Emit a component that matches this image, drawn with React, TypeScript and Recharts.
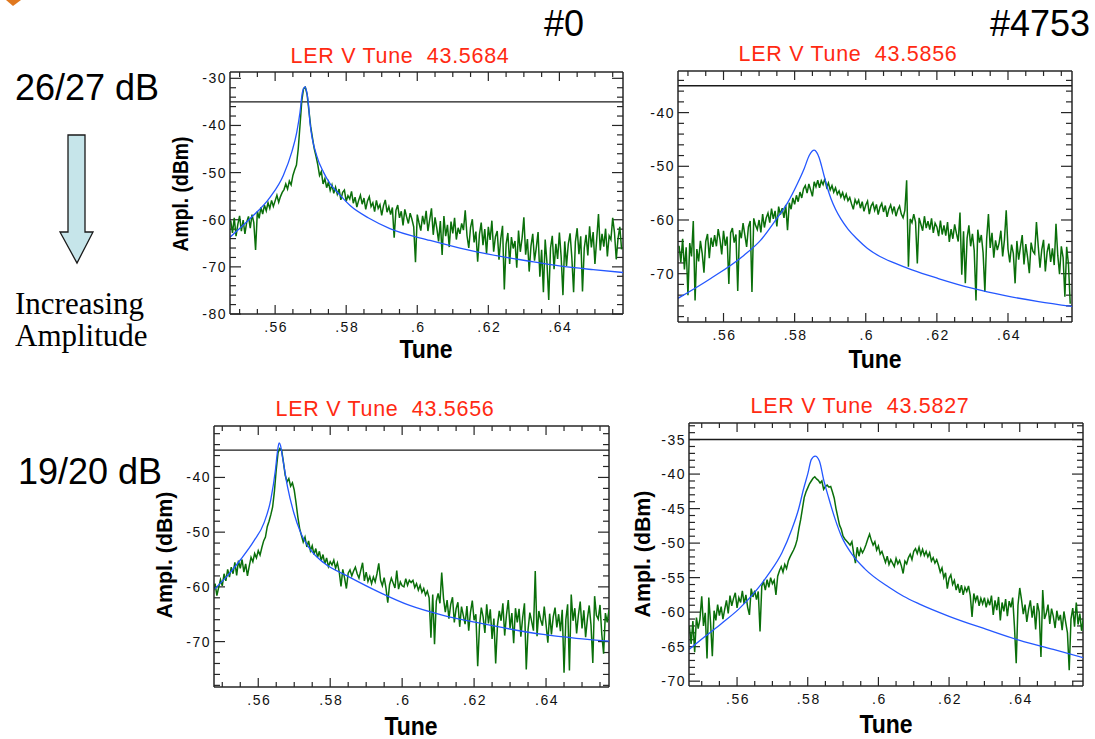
import { LineChart, Line, XAxis, YAxis, ReferenceLine } from "recharts";

// spectrum sample spacing (tune units)
const TUNE_STEP = 0.0005;

const X_TICKS = [
  0.55, 0.555, 0.56, 0.565, 0.57, 0.575, 0.58, 0.585, 0.59, 0.595, 0.6,
  0.605, 0.61, 0.615, 0.62, 0.625, 0.63, 0.635, 0.64, 0.645, 0.65, 0.655,
];
const X_MAJOR = [0.56, 0.58, 0.6, 0.62, 0.64];
const THRESHOLD_DBM = -35;

// ---- #0, 26/27 dB : LER V Tune 43.5684
const P1_START = 0.5475;
const P1_GREEN = [
  -60.2, -62.8, -59.6, -63.5, -61.0, -59.2, -62.4, -60.1, -63.0, -60.5,
  -59.3, -61.8, -58.9, -60.6, -66.4, -58.2, -59.7, -57.4, -58.8, -56.9,
  -58.1, -56.4, -57.6, -55.9, -57.2, -56.0, -54.8, -56.3, -55.1, -54.2,
  -53.6, -52.4, -53.5, -51.8, -52.6, -50.6, -49.4, -48.4, -45.0, -40.0,
  -34.8, -32.2, -31.9, -33.4, -36.8, -40.2, -42.6, -44.9, -46.5, -48.3,
  -50.6, -49.8, -52.4, -51.3, -53.2, -52.0, -53.8, -52.6, -54.4, -53.1,
  -54.6, -53.5, -55.8, -54.2, -53.7, -56.1, -54.9, -55.6, -54.0, -56.5,
  -55.2, -57.3, -55.9, -54.8, -56.7, -55.4, -57.8, -56.0, -55.1, -57.2,
  -56.4, -58.3, -55.9, -57.6, -56.8, -59.1, -57.0, -55.8, -58.4, -57.2,
  -58.9, -57.4, -63.8, -58.0, -56.9, -59.6, -58.2, -61.2, -57.8, -59.4,
  -60.8, -58.6, -59.9, -61.5, -69.0, -58.9, -60.7, -62.3, -59.2, -61.0,
  -58.1, -62.4, -60.0, -57.6, -63.2, -59.5, -61.8, -64.6, -60.3, -67.5,
  -59.2, -63.5, -61.1, -65.8, -60.4, -62.9, -59.6, -64.2, -61.7, -63.0,
  -60.8, -62.2, -58.0, -63.4, -66.0, -61.6, -59.9, -64.8, -62.5, -68.9,
  -63.1, -60.6, -65.4, -62.0, -67.2, -61.5, -64.3, -60.2, -66.8, -63.6,
  -62.4, -68.5, -64.0, -61.3, -74.8, -65.2, -62.8, -69.4, -63.7, -66.1,
  -64.5, -70.2, -62.3, -66.8, -63.9, -59.5, -67.4, -64.1, -71.0, -65.6,
  -63.0, -68.7, -65.9, -62.6, -72.1, -66.4, -75.4, -64.2, -69.1, -77.0,
  -66.0, -63.4, -70.5, -65.1, -68.3, -62.7, -67.9, -76.0, -64.6, -69.8,
  -65.2, -62.9, -68.0, -75.4, -64.7, -61.8, -67.3, -63.5, -75.2, -66.0,
  -63.2, -67.6, -61.4, -65.9, -62.6, -69.4, -64.1, -58.8, -66.5, -63.0,
  -65.7, -61.9, -67.8, -63.4, -64.2, -59.6, -62.7, -68.4, -64.0, -61.5,
  -66.3,
];
const P1_FIT_TUNE = [
  0.5473, 0.5529, 0.5586, 0.5623, 0.5647, 0.5661, 0.567, 0.5677, 0.5684,
  0.5689, 0.5694, 0.5698, 0.5717, 0.5736, 0.5755, 0.5783, 0.5811, 0.5867,
  0.5923, 0.6036, 0.612, 0.62, 0.6308, 0.64, 0.6495, 0.6579,
];
const P1_FIT_AMP = [
  -63.7, -59.8, -55.2, -50.6, -45.6, -41.4, -37.2, -32.9, -31.8,
  -32.9, -35.7, -39.3, -46.4, -49.9, -52.4, -54.8, -57.0, -59.8,
  -61.9, -64.4, -66.0, -67.3, -68.7, -69.8, -70.6, -71.2,
];
const P1_Y_MAJOR = [-80, -70, -60, -50, -40, -30];

// ---- #4753, 26/27 dB : LER V Tune 43.5856
const P2_START = 0.5475;
const P2_GREEN = [
  -64.8, -67.9, -63.5, -69.2, -65.1, -74.0, -64.3, -66.8, -60.2, -75.0,
  -65.4, -67.7, -63.9, -66.2, -69.8, -64.0, -62.6, -67.1, -63.3, -65.0,
  -62.8, -64.9, -61.7, -63.6, -66.4, -62.0, -64.8, -63.1, -71.9, -62.4,
  -61.5, -64.2, -62.7, -73.2, -61.9, -63.4, -60.6, -62.8, -65.0, -61.3,
  -60.2, -73.4, -59.7, -61.0, -61.8, -60.0, -62.3, -58.9, -61.4, -59.6,
  -58.7, -60.5, -57.9, -59.8, -58.3, -61.2, -57.5, -59.0, -57.8, -59.6,
  -57.2, -61.9, -56.8, -58.0, -55.9, -57.1, -55.4, -56.6, -54.8, -55.9,
  -54.2, -53.6, -55.0, -53.3, -54.4, -55.6, -52.9, -53.8, -52.6, -54.0,
  -52.7, -53.4, -52.3, -53.9, -53.1, -54.4, -53.6, -54.8, -54.0, -55.2,
  -54.6, -55.7, -54.9, -56.1, -55.2, -56.4, -55.8, -57.0, -58.0, -56.2,
  -57.0, -56.3, -57.8, -56.6, -58.4, -57.2, -56.5, -58.9, -57.4, -56.8,
  -58.2, -57.1, -59.0, -57.6, -56.9, -58.5, -57.3, -59.4, -58.0, -57.2,
  -58.6, -57.5, -59.3, -58.1, -57.4, -58.9, -59.6, -58.2, -52.6, -68.7,
  -59.8, -60.5, -58.9, -60.4, -68.1, -59.6, -60.8, -62.0, -59.3, -61.5,
  -60.2, -61.8, -59.7, -62.4, -60.6, -61.3, -63.0, -60.1, -62.7, -61.0,
  -62.9, -60.4, -64.1, -61.7, -63.5, -60.8, -62.5, -64.0, -58.6, -70.2,
  -62.1, -71.8, -63.4, -61.0, -64.9, -62.6, -65.7, -75.0, -61.8, -64.2,
  -62.8, -66.1, -73.4, -63.5, -58.9, -65.2, -62.4, -67.0, -63.8, -65.6,
  -64.3, -62.0, -66.8, -63.7, -58.2, -65.4, -67.9, -64.6, -66.2, -71.8,
  -63.9, -67.4, -65.0, -62.8, -68.3, -64.5, -66.9, -69.9, -64.2, -65.8,
  -66.3, -60.4, -64.8, -68.9, -65.5, -63.7, -69.6, -66.0, -64.4, -67.8,
  -65.3, -68.4, -60.7, -66.6, -70.1, -64.9, -67.0, -74.3, -65.0, -68.2,
  -75.6,
];
const P2_FIT_TUNE = [
  0.5472, 0.5564, 0.5657, 0.5704, 0.575, 0.578, 0.5808, 0.5827, 0.5841,
  0.5849, 0.5855, 0.5862, 0.5869, 0.5876, 0.5883, 0.5892, 0.5902, 0.5915,
  0.593, 0.595, 0.5975, 0.6005, 0.604, 0.608, 0.613, 0.6204, 0.6298,
  0.6392, 0.6486, 0.658,
];
const P2_FIT_AMP = [
  -74.6, -70.9, -66.6, -63.8, -59.7, -56.8, -53.2, -50.4, -48.0,
  -47.2, -47.0, -47.4, -48.4, -50.0, -51.8, -54.0, -56.0, -58.0,
  -59.8, -61.7, -63.5, -65.3, -66.8, -68.0, -69.3, -70.9, -72.7,
  -74.1, -75.2, -76.1,
];
const P2_Y_MAJOR = [-70, -60, -50, -40];

// ---- #0, 19/20 dB : LER V Tune 43.5656
const P3_START = 0.5475;
const P3_GREEN = [
  -60.8, -59.4, -61.6, -60.1, -58.7, -59.8, -57.6, -58.9, -56.8, -58.2,
  -56.4, -57.6, -55.5, -57.9, -55.2, -56.6, -55.0, -57.3, -55.8, -58.0,
  -56.2, -54.6, -55.4, -53.9, -54.7, -53.4, -54.2, -52.8, -51.6, -50.9,
  -49.0, -48.0, -46.8, -45.4, -42.5, -38.6, -35.5, -34.7, -35.0, -37.2,
  -39.6, -40.8, -40.2, -41.6, -41.0, -42.3, -44.6, -47.2, -49.3, -50.6,
  -51.8, -50.9, -52.7, -51.6, -53.4, -52.5, -54.1, -53.0, -54.6, -53.5,
  -55.2, -54.1, -55.8, -54.7, -56.3, -55.4, -56.0, -55.1, -56.6, -55.6,
  -57.2, -59.9, -56.8, -58.4, -60.3, -57.5, -56.9, -58.0, -57.1, -56.4,
  -57.6, -58.4, -57.0, -55.6, -58.9, -57.3, -59.0, -58.1, -59.4, -58.2,
  -59.1, -57.6, -55.7, -58.8, -59.8, -58.3, -60.2, -62.9, -59.6, -58.4,
  -59.3, -60.2, -57.0, -60.4, -59.1, -59.8, -60.0, -58.5, -59.7, -58.8,
  -59.2, -58.8, -60.1, -59.4, -60.6, -59.7, -61.0, -60.3, -61.5, -60.8,
  -62.0, -69.3, -61.4, -70.5, -62.6, -61.2, -63.0, -57.4, -62.1, -64.6,
  -62.4, -65.8, -63.2, -61.9, -66.5, -64.0, -62.8, -67.3, -63.6, -65.2,
  -66.8, -63.5, -68.0, -64.6, -62.5, -66.1, -65.0, -74.5, -67.2, -63.8,
  -65.5, -68.4, -63.2, -66.7, -64.1, -69.5, -65.8, -74.0, -67.0, -64.4,
  -66.2, -63.0, -68.9, -65.1, -62.4, -67.6, -64.8, -70.3, -63.9, -66.5,
  -64.0, -69.1, -65.6, -63.0, -75.1, -67.8, -64.7, -66.3, -68.0, -57.1,
  -69.0, -64.4, -66.0, -67.1, -63.6, -66.8, -70.2, -64.9, -68.7, -65.5,
  -63.8, -67.4, -65.0, -68.1, -64.2, -75.7, -66.0, -63.2, -75.3, -61.4,
  -66.2, -63.9, -68.5, -65.1, -62.7, -67.6, -64.3, -69.2, -65.8, -63.4,
  -67.0, -73.9, -61.7, -65.2, -65.9, -63.3, -68.7, -72.2, -64.8, -66.5,
  -64.2,
];
const P3_FIT_TUNE = [
  0.5477, 0.5514, 0.5551, 0.5588, 0.5616, 0.5635, 0.5648, 0.5653, 0.5658,
  0.5662, 0.5667, 0.5681, 0.5699, 0.5718, 0.5745, 0.5782, 0.5847, 0.594,
  0.6021, 0.6114, 0.6206, 0.6299, 0.6392, 0.6484, 0.6575,
];
const P3_FIT_AMP = [
  -60.5, -58.0, -55.0, -51.6, -48.3, -44.0, -38.5, -35.5, -33.7,
  -34.2, -36.1, -41.6, -46.5, -50.1, -53.2, -55.6, -58.0, -61.1,
  -63.4, -65.2, -66.5, -67.7, -68.7, -69.4, -69.9,
];
const P3_Y_MAJOR = [-70, -60, -50, -40];

// ---- #4753, 19/20 dB : LER V Tune 43.5827
const P4_START = 0.5465;
const P4_GREEN = [
  -62.0, -64.6, -61.3, -65.8, -60.8, -62.4, -61.0, -57.7, -62.0, -60.1,
  -66.7, -57.9, -61.5, -66.4, -59.8, -61.2, -58.9, -60.5, -59.2, -61.0,
  -59.6, -58.3, -60.2, -57.6, -59.1, -58.0, -57.2, -59.4, -57.9, -58.6,
  -56.9, -58.8, -57.5, -59.3, -60.4, -56.6, -57.8, -56.9, -58.2, -57.0,
  -62.8, -56.2, -55.6, -56.8, -55.3, -56.4, -55.0, -55.9, -55.4, -57.5,
  -54.8, -54.0, -53.4, -54.2, -53.1, -53.7, -52.6, -52.0, -51.5, -51.0,
  -50.4, -49.5, -47.9, -46.6, -45.0, -43.4, -42.6, -42.0, -41.4, -41.0,
  -40.6, -40.4, -40.7, -40.9, -41.3, -41.0, -42.2, -41.8, -41.6, -41.9,
  -41.8, -42.6, -43.5, -45.0, -46.2, -47.4, -48.0, -49.0, -49.4, -49.7,
  -50.0, -50.3, -49.8, -51.5, -52.9, -50.6, -51.9, -50.8, -51.4, -50.9,
  -50.2, -49.4, -48.7, -49.6, -50.3, -49.8, -51.0, -50.4, -51.6, -51.2,
  -52.0, -52.8, -51.9, -53.1, -52.4, -52.9, -53.4, -52.2, -53.0, -52.5,
  -53.3, -54.4, -52.6, -53.0, -52.1, -51.6, -52.4, -51.2, -50.8, -51.5,
  -50.6, -51.7, -50.9, -51.8, -51.2, -52.0, -51.4, -52.6, -52.1, -52.9,
  -52.4, -53.2, -54.2, -53.6, -55.0, -54.3, -56.6, -55.1, -54.6, -56.0,
  -55.4, -56.8, -55.9, -57.2, -56.1, -57.5, -56.4, -57.0, -56.2, -57.6,
  -60.7, -57.3, -58.4, -57.6, -59.1, -58.0, -58.8, -57.9, -59.3, -58.2,
  -59.0, -57.6, -60.4, -58.3, -59.7, -57.8, -61.2, -58.6, -59.9, -58.1,
  -60.6, -58.4, -59.3, -57.9, -62.1, -67.4, -59.0, -56.5, -58.2, -60.3,
  -58.9, -61.4, -59.6, -58.3, -60.8, -59.1, -62.5, -58.7, -60.0, -66.5,
  -56.8, -61.0, -60.2, -58.9, -61.7, -59.5, -60.6, -62.3, -59.8, -61.2,
  -60.4, -62.6, -59.9, -61.5, -63.0, -68.4, -61.0, -59.4, -62.1, -58.6,
  -61.8, -60.2, -62.7, -60.9,
];
const P4_FIT_TUNE = [
  0.5464, 0.551, 0.5557, 0.5604, 0.5652, 0.5689, 0.5727, 0.5755, 0.5774,
  0.5788, 0.5801, 0.581, 0.5821, 0.5833, 0.5845, 0.5859, 0.5878, 0.5897,
  0.5925, 0.5963, 0.603, 0.6071, 0.6115, 0.62, 0.6306, 0.64, 0.6495, 0.658,
];
const P4_FIT_AMP = [
  -65.4, -63.5, -61.6, -59.6, -57.0, -54.5, -51.4, -48.0, -45.1,
  -42.2, -39.8, -37.9, -37.4, -38.1, -40.8, -43.4, -46.6, -49.2,
  -51.6, -53.8, -56.4, -57.7, -58.8, -60.6, -62.5, -64.1, -65.4, -66.6,
];
const P4_Y_MAJOR = [-70, -65, -60, -55, -50, -45, -40, -35];

const GREEN = "#0a6f0a";
const BLUE = "#2457ff";
const FRAME = "#262626";
const TITLE_RED = "#ff2a12";
const SANS = "'Liberation Sans', Arial, Helvetica, sans-serif";

const steps = (from: number, to: number, step: number) => {
  const out: number[] = [];
  for (let v = from; v <= to + 1e-9; v += step) out.push(Math.round(v * 1e4) / 1e4);
  return out;
};

const toSeries = (start: number, amps: number[]) =>
  amps.map((amp, i) => ({ tune: start + i * TUNE_STEP, amp }));
const toFit = (tunes: number[], amps: number[]) =>
  tunes.map((tune, i) => ({ tune, amp: amps[i] }));

const isMajor = (v: number, majors: number[]) => majors.some((m) => Math.abs(m - v) < 1e-6);
const fmtTune = (v: number) => String(v).replace(/^0\./, ".");

const tickText = { fontFamily: SANS, fontSize: 14, letterSpacing: 1.5, fill: "#111" };

function BottomLabel(props: any) {
  const { x, y, payload } = props;
  if (!isMajor(payload.value, X_MAJOR)) return <g />;
  return (
    <text x={x + 1} y={y + 18} textAnchor="middle" style={tickText}>
      {fmtTune(payload.value)}
    </text>
  );
}

function LeftLabel(props: any) {
  const { x, y, payload, majors } = props;
  if (!isMajor(payload.value, majors)) return <g />;
  return (
    <text x={x - 3} y={y + 5} textAnchor="end" style={tickText}>
      {String(payload.value)}
    </text>
  );
}

type Rect = { left: number; top: number; right: number; bottom: number };

type PanelProps = {
  plot: Rect;
  xDomain: [number, number];
  yDomain: [number, number];
  yMajor: number[];
  yTicks: number[];
  green: { tune: number; amp: number }[];
  fit: { tune: number; amp: number }[];
};

const YW = 60;
const MT = 10;
const MR = 10;
const XH = 30;

function Panel({ plot, xDomain, yDomain, yMajor, yTicks, green, fit }: PanelProps) {
  const pw = plot.right - plot.left;
  const ph = plot.bottom - plot.top;
  const w = pw + YW + MR;
  const h = ph + MT + XH;
  const xTicks = X_TICKS.filter((v) => v >= xDomain[0] && v <= xDomain[1]);
  const [x0, x1] = xDomain;
  const [y0, y1] = yDomain;
  // tick lengths (px) converted to data units so the marks point inward
  const yPerPx = (y1 - y0) / ph;
  const xPerPx = (x1 - x0) / pw;
  const tickLine = { stroke: FRAME, strokeWidth: 1.2, ifOverflow: "visible" as const, xAxisId: "b", yAxisId: "l" };
  const edge = { stroke: FRAME, strokeWidth: 1.5, ifOverflow: "visible" as const, xAxisId: "b", yAxisId: "l" };
  return (
    <div style={{ position: "absolute", left: plot.left - YW, top: plot.top - MT }}>
      <LineChart width={w} height={h} margin={{ top: MT, right: MR, bottom: 0, left: 0 }}>
        <XAxis
          xAxisId="b"
          dataKey="tune"
          type="number"
          domain={xDomain}
          allowDataOverflow
          ticks={xTicks}
          interval={0}
          tickSize={0}
          tickMargin={0}
          tickLine={false}
          axisLine={{ stroke: FRAME, strokeWidth: 1.5 }}
          height={XH}
          tick={(p: any) => <BottomLabel {...p} />}
        />
        <YAxis
          yAxisId="l"
          type="number"
          domain={yDomain}
          allowDataOverflow
          ticks={yTicks}
          interval={0}
          tickSize={0}
          tickMargin={0}
          tickLine={false}
          axisLine={{ stroke: FRAME, strokeWidth: 1.5 }}
          width={YW}
          tick={(p: any) => <LeftLabel {...p} majors={yMajor} />}
        />
        <ReferenceLine {...edge} y={y1} />
        <ReferenceLine {...edge} x={x1} />
        {xTicks.map((t) => {
          const len = (isMajor(t, X_MAJOR) ? 9 : 5) * yPerPx;
          return [
            <ReferenceLine key={`xb${t}`} {...tickLine} segment={[{ x: t, y: y0 }, { x: t, y: y0 + len }]} />,
            <ReferenceLine key={`xt${t}`} {...tickLine} segment={[{ x: t, y: y1 }, { x: t, y: y1 - len }]} />,
          ];
        })}
        {yTicks.map((t) => {
          const len = (isMajor(t, yMajor) ? 11 : 6) * xPerPx;
          return [
            <ReferenceLine key={`yl${t}`} {...tickLine} segment={[{ x: x0, y: t }, { x: x0 + len, y: t }]} />,
            <ReferenceLine key={`yr${t}`} {...tickLine} segment={[{ x: x1, y: t }, { x: x1 - len, y: t }]} />,
          ];
        })}
        <ReferenceLine xAxisId="b" yAxisId="l" y={THRESHOLD_DBM} stroke="#1a1a1a" strokeWidth={1.4} />
        <Line
          xAxisId="b"
          yAxisId="l"
          data={green}
          dataKey="amp"
          type="linear"
          stroke={GREEN}
          strokeWidth={1.5}
          dot={false}
          activeDot={false}
          isAnimationActive={false}
        />
        <Line
          xAxisId="b"
          yAxisId="l"
          data={fit}
          dataKey="amp"
          type="monotone"
          stroke={BLUE}
          strokeWidth={1.3}
          dot={false}
          activeDot={false}
          isAnimationActive={false}
        />
      </LineChart>
    </div>
  );
}

function Txt({ style, children }: { style: React.CSSProperties; children: React.ReactNode }) {
  return <div style={{ position: "absolute", whiteSpace: "nowrap", ...style }}>{children}</div>;
}

const titleStyle = (cx: number, top: number): React.CSSProperties => ({
  left: cx,
  top,
  transform: "translateX(-50%)",
  fontFamily: SANS,
  fontSize: 21.5,
  lineHeight: "21px",
  letterSpacing: 0.7,
  color: TITLE_RED,
});

const tuneStyle = (cx: number, top: number): React.CSSProperties => ({
  left: cx,
  top,
  transform: "translateX(-50%) scaleX(0.92)",
  fontFamily: SANS,
  fontWeight: 700,
  fontSize: 25,
  lineHeight: "25px",
  color: "#000",
});

const amplStyle = (cx: number, cy: number, sx: number): React.CSSProperties => ({
  left: cx,
  top: cy,
  transform: `translate(-50%, -50%) rotate(-90deg) scaleX(${sx})`,
  fontFamily: SANS,
  fontWeight: 700,
  fontSize: 22,
  lineHeight: "22px",
  color: "#000",
});

const bigStyle = (left: number, top: number): React.CSSProperties => ({
  left,
  top,
  fontFamily: SANS,
  fontSize: 36,
  lineHeight: "36px",
  color: "#000",
});

export default function App() {
  return (
    <div
      style={{
        position: "absolute",
        left: 0,
        top: 0,
        width: 1095,
        height: 739,
        background: "#fff",
        overflow: "hidden",
      }}
    >
      <svg width={1095} height={739} style={{ position: "absolute", left: 0, top: 0 }}>
        <path d="M6,0 L21,0 L13,6 Z" fill="#e0781e" />
        <polygon
          points="68,135 85,135 85,232 93,232 77,263 60,232 68,232"
          fill="#c6e5ea"
          stroke="#1a1a1a"
          strokeWidth={1.3}
        />
      </svg>

      <Txt style={bigStyle(544, 6)}>#0</Txt>
      <Txt style={bigStyle(990, 6)}>#4753</Txt>
      <Txt style={bigStyle(15, 70)}>26/27 dB</Txt>
      <Txt style={bigStyle(18, 454)}>19/20 dB</Txt>
      <Txt
        style={{
          left: 15,
          top: 288,
          fontFamily: "'Liberation Serif', 'Times New Roman', serif",
          fontSize: 31,
          lineHeight: "32px",
          color: "#000",
        }}
      >
        Increasing
        <br />
        Amplitude
      </Txt>

      <Panel
        plot={{ left: 230, top: 72, right: 623, bottom: 314 }}
        xDomain={[0.5473, 0.6579]}
        yDomain={[-80, -28.66]}
        yMajor={P1_Y_MAJOR}
        yTicks={steps(-80, -30, 2)}
        green={toSeries(P1_START, P1_GREEN)}
        fit={toFit(P1_FIT_TUNE, P1_FIT_AMP)}
      />
      <Panel
        plot={{ left: 678, top: 71, right: 1072, bottom: 322 }}
        xDomain={[0.5472, 0.658]}
        yDomain={[-79, -32.25]}
        yMajor={P2_Y_MAJOR}
        yTicks={steps(-78, -34, 2)}
        green={toSeries(P2_START, P2_GREEN)}
        fit={toFit(P2_FIT_TUNE, P2_FIT_AMP)}
      />
      <Panel
        plot={{ left: 214, top: 426, right: 609, bottom: 687 }}
        xDomain={[0.5477, 0.6575]}
        yDomain={[-78.3, -30.6]}
        yMajor={P3_Y_MAJOR}
        yTicks={steps(-78, -32, 2)}
        green={toSeries(P3_START, P3_GREEN)}
        fit={toFit(P3_FIT_TUNE, P3_FIT_AMP)}
      />
      <Panel
        plot={{ left: 689, top: 423, right: 1083, bottom: 686 }}
        xDomain={[0.5464, 0.6579]}
        yDomain={[-70.7, -32.6]}
        yMajor={P4_Y_MAJOR}
        yTicks={steps(-70, -33, 1)}
        green={toSeries(P4_START, P4_GREEN)}
        fit={toFit(P4_FIT_TUNE, P4_FIT_AMP)}
      />

      <Txt style={titleStyle(400, 45.5)}>LER V Tune&nbsp; 43.5684</Txt>
      <Txt style={titleStyle(848, 44)}>LER V Tune&nbsp; 43.5856</Txt>
      <Txt style={titleStyle(385, 399)}>LER V Tune&nbsp; 43.5656</Txt>
      <Txt style={titleStyle(860, 395.5)}>LER V Tune&nbsp; 43.5827</Txt>

      <Txt style={tuneStyle(426, 337)}>Tune</Txt>
      <Txt style={tuneStyle(875, 347)}>Tune</Txt>
      <Txt style={tuneStyle(411, 714)}>Tune</Txt>
      <Txt style={tuneStyle(886, 712)}>Tune</Txt>

      <Txt style={amplStyle(181, 194, 0.88)}>Ampl. (dBm)</Txt>
      <Txt style={amplStyle(165, 555, 0.97)}>Ampl. (dBm)</Txt>
      <Txt style={amplStyle(643, 554, 0.97)}>Ampl. (dBm)</Txt>
    </div>
  );
}
